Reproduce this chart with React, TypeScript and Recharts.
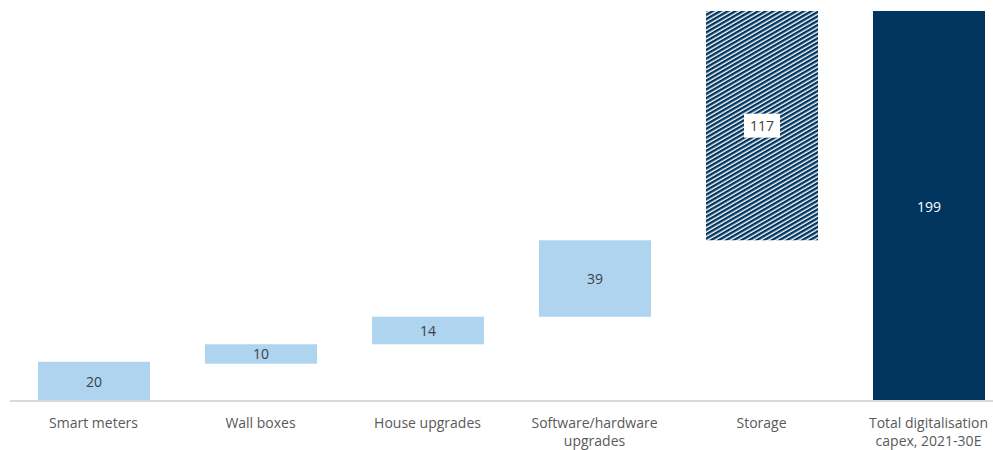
import React from 'react';
import { BarChart, Bar, XAxis, YAxis, Cell, LabelList } from 'recharts';

// categories (two-line labels split by \n)
const categories = [
  'Smart meters',
  'Wall boxes',
  'House upgrades',
  'Software/hardware\nupgrades',
  'Storage',
  'Total digitalisation\ncapex, 2021-30E',
];
// invisible offset under each floating bar
const baseValues = [0, 19, 29, 43, 82, 0];
// visible bar values
const barValues = [20, 10, 14, 39, 117, 199];
const barKinds = ['step', 'step', 'step', 'step', 'hatch', 'total'];

const data = categories.map((name, i) => ({
  name,
  base: baseValues[i],
  value: barValues[i],
  kind: barKinds[i],
}));

const LIGHT = '#AED4F0';
const NAVY = '#00355F';
const FONT = '"Open Sans", sans-serif';

const fillFor = (kind: string) => {
  if (kind === 'hatch') return 'url(#hatch)';
  if (kind === 'total') return NAVY;
  return LIGHT;
};

function CategoryTick(props: any) {
  const { x, payload } = props;
  const lines = String(payload.value).split('\n');
  return (
    <g transform={`translate(${x},401)`}>
      <text textAnchor="middle" fill="#595959" fontSize={14} fontFamily={FONT}>
        {lines.map((l, i) => (
          <tspan key={i} x={0} dy={i === 0 ? 27 : 18}>{l}</tspan>
        ))}
      </text>
    </g>
  );
}

function ValueLabel(props: any) {
  const { x, y, width, height, value, index } = props;
  const cx = x + width / 2;
  const cy = y + height / 2;
  const kind = barKinds[index];
  const color = kind === 'total' ? '#ffffff' : '#404040';
  return (
    <g>
      {kind === 'hatch' && (
        <rect x={cx - 18} y={cy - 12} width={36} height={24} fill="#ffffff" />
      )}
      <text x={cx} y={cy} textAnchor="middle" dominantBaseline="central" fill={color} fontSize={14} fontFamily={FONT}>
        {value}
      </text>
    </g>
  );
}

export default function App() {
  return (
    <div style={{ position: 'fixed', left: 0, top: 0, width: 993, height: 450, overflow: 'hidden', background: '#fff' }}>
      <BarChart
        width={1012}
        height={450}
        data={data}
        margin={{ top: 11, right: 0, bottom: 0, left: 10 }}
        barSize={112}
      >
        <defs>
          <pattern id="hatch" patternUnits="userSpaceOnUse" width={3.8} height={3.8} patternTransform="rotate(-30)">
            <rect x={0} y={0} width={3.8} height={3.8} fill="#ffffff" />
            <rect x={0} y={0} width={3.8} height={2.4} fill={NAVY} />
          </pattern>
        </defs>
        <XAxis
          dataKey="name"
          interval={0}
          height={49}
          tickLine={false}
          axisLine={{ stroke: '#D9D9D9', strokeWidth: 2 }}
          tick={<CategoryTick />}
        />
        <YAxis hide domain={[0, 199]} />
        <Bar dataKey="base" stackId="w" fill="transparent" isAnimationActive={false} />
        <Bar dataKey="value" stackId="w" isAnimationActive={false}>
          {data.map((d, i) => (
            <Cell key={i} fill={fillFor(d.kind)} />
          ))}
          <LabelList dataKey="value" content={<ValueLabel />} />
        </Bar>
      </BarChart>
    </div>
  );
}
